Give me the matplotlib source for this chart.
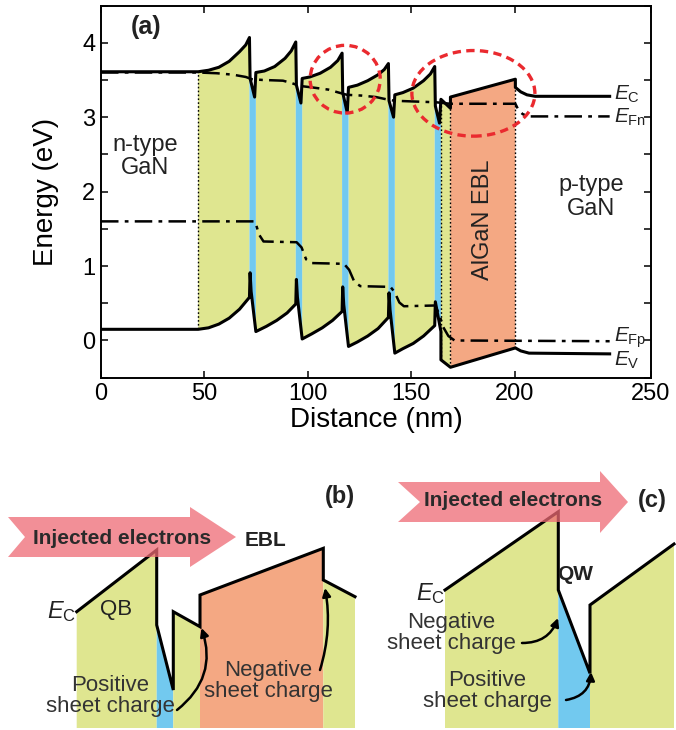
import numpy as np
import matplotlib
matplotlib.use('Agg')
import matplotlib.pyplot as plt
from matplotlib.patches import Polygon, Ellipse
from matplotlib.ticker import MultipleLocator

plt.rcParams['font.family'] = ['Liberation Sans', 'DejaVu Sans']
plt.rcParams['mathtext.fontset'] = 'custom'
plt.rcParams['mathtext.rm'] = 'Liberation Sans'
plt.rcParams['mathtext.it'] = 'Liberation Sans:italic'
plt.rcParams['mathtext.bf'] = 'Liberation Sans:bold'

GREEN = '#dfe690'
BLUE = '#72c9ef'
ORANGE = '#f4a883'
ARROW = '#ee6a74'
TXT = '#222222'

# ---- panel (a) data (nm, eV) ----
ec_x = [0, 47, 52, 57, 62, 67, 70, 71.8,
        72.1, 74.3, 74.9, 79, 84, 89, 92, 94.2,
        94.5, 96.7, 97.3, 101, 106, 111, 114.5, 116.6,
        116.9, 119.1, 119.7, 124, 129, 134, 137, 139.0,
        139.3, 141.5, 142.1, 146, 151, 156, 159.3, 161.4,
        161.7, 163.7, 164.4, 169.0, 169.0,
        200.4, 200.4, 203, 206, 210, 246]
ec_y = [3.61, 3.61, 3.63, 3.67, 3.75, 3.88, 3.97, 4.07,
        3.52, 3.27, 3.60, 3.62, 3.68, 3.79, 3.89, 4.01,
        3.43, 3.19, 3.52, 3.54, 3.59, 3.67, 3.76, 3.86,
        3.33, 3.06, 3.40, 3.43, 3.49, 3.57, 3.64, 3.72,
        3.22, 3.00, 3.30, 3.33, 3.39, 3.49, 3.58, 3.68,
        3.15, 2.92, 3.24, 3.12, 3.27,
        3.51, 3.40, 3.34, 3.30, 3.28, 3.28]

ev_x = [0, 47, 52, 57, 62, 67, 71.8,
        72.1, 72.6, 74.9, 80, 85, 90, 94.2,
        94.5, 95.0, 97.3, 102, 107, 112, 116.6,
        116.9, 117.4, 119.7, 124, 129, 134, 139.0,
        139.3, 139.8, 142.1, 146, 151, 156, 161.4,
        161.7, 164.4, 164.4, 169.0,
        200.4, 203, 207, 246]
ev_y = [0.15, 0.15, 0.17, 0.22, 0.30, 0.42, 0.58,
        0.91, 0.66, 0.12, 0.19, 0.27, 0.37, 0.49,
        0.82, 0.58, 0.02, 0.09, 0.17, 0.27, 0.39,
        0.72, 0.48, -0.08, -0.02, 0.06, 0.16, 0.31,
        0.64, 0.41, -0.17, -0.11, -0.04, 0.06, 0.20,
        0.52, 0.12, -0.26, -0.36,
        -0.10, -0.14, -0.17, -0.18]

efn_x = [0, 47, 56, 64, 70, 73, 78, 88, 92, 96, 102, 110, 115, 119, 126, 133,
         138, 142, 152, 162, 169, 200.4, 202, 204, 207, 246]
efn_y = [3.60, 3.60, 3.59, 3.57, 3.54, 3.51, 3.50, 3.49, 3.46, 3.42, 3.40, 3.37,
         3.33, 3.30, 3.29, 3.27, 3.24, 3.22, 3.21, 3.20, 3.18, 3.18, 3.09, 3.04,
         3.01, 3.01]

efp_x = [0, 74.5, 76.5, 78.6, 94.6, 97.0, 99.2, 102, 117.5, 120, 122.5, 125.4,
         140, 142, 144.3, 146.5, 161.5, 163.5, 165.5, 168, 171, 246]
efp_y = [1.60, 1.60, 1.42, 1.33, 1.32, 1.25, 1.09, 1.04, 1.03, 0.95, 0.79, 0.73,
         0.72, 0.65, 0.51, 0.46, 0.47, 0.36, 0.18, 0.06, 0.00, -0.01]

barriers = [(47, 71.8), (74.9, 94.2), (97.3, 116.6), (119.7, 139.0),
            (142.1, 161.4), (164.4, 169.0)]
wells = [(71.8, 74.9), (94.2, 97.3), (116.6, 119.7), (139.0, 142.1), (161.4, 164.4)]
ebl = (169.0, 200.4)
interfaces = [47, 164.4, 169.0, 200.4]

# ---- panels (b), (c): schematic outlines, in picture pixels ----
b_ec_x = [76.7, 156.7, 156.7, 173.3, 173.3, 200, 200, 323.3, 323.3, 355]
b_ec_y = [611.7, 550, 625, 690, 611.7, 626.7, 595, 548.3, 580, 596.7]
b_parts = [(0, 1, GREEN), (2, 3, BLUE), (4, 5, GREEN), (6, 7, ORANGE), (8, 9, GREEN)]
c_ec_x = [445, 558.3, 558.3, 590, 590, 674]
c_ec_y = [590, 511.7, 590, 673.3, 605, 544]
c_parts = [(0, 1, GREEN), (2, 3, BLUE), (4, 5, GREEN)]
bottom_px = 728

b_arrow_x = [8, 25, 8, 190, 190, 236, 190, 190]
b_arrow_y = [517, 537, 557, 557, 567, 537, 507, 517]
c_arrow_x = [398, 420, 398, 600, 600, 628, 600, 600]
c_arrow_y = [482, 502, 522, 522, 533, 502, 471, 482]


def region(xs, ys, a, b):
    return [(x, y) for x, y in zip(xs, ys) if a - 1e-9 <= x <= b + 1e-9]


fig = plt.figure(figsize=(6.76, 7.30), dpi=100)

# schematic canvas (pixel coordinates)
axs = fig.add_axes([0, 0, 1, 1])
axs.set_xlim(0, 676)
axs.set_ylim(730, 0)
axs.axis('off')

for xs, ys, parts in [(b_ec_x, b_ec_y, b_parts), (c_ec_x, c_ec_y, c_parts)]:
    for i0, i1, col in parts:
        pts = [(xs[i0], bottom_px)] + [(xs[i], ys[i]) for i in range(i0, i1 + 1)] + [(xs[i1], bottom_px)]
        axs.add_patch(Polygon(pts, closed=True, facecolor=col, edgecolor='none', zorder=1))
    axs.plot(xs, ys, color='black', lw=2.2, solid_joinstyle='miter', zorder=3)

for ax_x, ax_y in [(b_arrow_x, b_arrow_y), (c_arrow_x, c_arrow_y)]:
    axs.add_patch(Polygon(list(zip(ax_x, ax_y)), closed=True, facecolor=ARROW,
                          edgecolor='none', alpha=0.75, zorder=4))

axs.text(122, 538, 'Injected electrons', fontsize=15, fontweight='bold', color='#2a2a2a',
         ha='center', va='center', zorder=5)
axs.text(513, 501, 'Injected electrons', fontsize=15, fontweight='bold', color='#2a2a2a',
         ha='center', va='center', zorder=5)
axs.text(340, 497, '(b)', fontsize=17, fontweight='bold', color=TXT, ha='center', va='center')
axs.text(652, 501, '(c)', fontsize=17, fontweight='bold', color=TXT, ha='center', va='center')
axs.text(266, 540, 'EBL', fontsize=15, fontweight='bold', color=TXT, ha='center', va='center')
axs.text(575, 575, 'QW', fontsize=15, fontweight='bold', color=TXT, ha='center', va='center', zorder=5)
axs.text(116, 610, 'QB', fontsize=16, color=TXT, ha='center', va='center')
axs.text(76, 618, r'$\mathit{E}_{\mathrm{C}}$', fontsize=17, color=TXT, ha='right', va='baseline')
axs.text(445, 600, r'$\mathit{E}_{\mathrm{C}}$', fontsize=17, color=TXT, ha='right', va='baseline')
axs.text(110, 696, 'Positive\nsheet charge', fontsize=16, color='#333333', ha='center',
         va='center', linespacing=1.05, zorder=5)
axs.text(268, 681, 'Negative\nsheet charge', fontsize=16, color='#333333', ha='center',
         va='center', linespacing=1.05, zorder=5)
axs.text(451, 633, 'Negative\nsheet charge', fontsize=16, color='#333333', ha='center',
         va='center', linespacing=1.05, zorder=5)
axs.text(487, 691, 'Positive\nsheet charge', fontsize=16, color='#333333', ha='center',
         va='center', linespacing=1.05, zorder=5)

curved = [((177, 710), (201.5, 628), 0.35), ((320, 670), (325, 588), 0.12),
          ((522, 643), (558, 618), 0.35), ((566, 700), (591, 672), 0.4)]
for start, end, rad in curved:
    axs.annotate('', xy=end, xytext=start,
                 arrowprops=dict(arrowstyle='-|>', color='black', lw=1.8, mutation_scale=12,
                                 shrinkA=0, shrinkB=0, connectionstyle=f'arc3,rad={rad}'),
                 zorder=6)

# ---- panel (a) ----
ax = fig.add_axes([101 / 676, 1 - 377.7 / 730, 550 / 676, 372.2 / 730])
for a, b in barriers:
    pts = region(ec_x, ec_y, a, b) + region(ev_x, ev_y, a, b)[::-1]
    ax.add_patch(Polygon(pts, closed=True, facecolor=GREEN, edgecolor='none', zorder=1))
for a, b in wells:
    pts = region(ec_x, ec_y, a, b) + region(ev_x, ev_y, a, b)[::-1]
    ax.add_patch(Polygon(pts, closed=True, facecolor=BLUE, edgecolor='none', zorder=1))
pts = region(ec_x, ec_y, *ebl) + region(ev_x, ev_y, *ebl)[::-1]
ax.add_patch(Polygon(pts, closed=True, facecolor=ORANGE, edgecolor='none', zorder=1))

for xi in interfaces:
    top = max(y for x, y in zip(ec_x, ec_y) if abs(x - xi) < 1e-9)
    bot = min(y for x, y in zip(ev_x, ev_y) if abs(x - xi) < 1e-9)
    ax.plot([xi, xi], [bot, top], color='black', lw=1.0, ls=(0, (1.2, 1.6)), zorder=2)

dashdot = (0, (7, 2.5, 1.5, 2.5))
ax.plot(ec_x, ec_y, color='black', lw=2.2, zorder=4)
ax.plot(ev_x, ev_y, color='black', lw=2.2, zorder=4)
ax.plot(efn_x, efn_y, color='black', lw=1.8, ls=dashdot, zorder=4)
ax.plot(efp_x, efp_y, color='black', lw=1.8, ls=dashdot, zorder=4)

for cx, cy, w, h in [(118.1, 3.51, 33.9, 0.91), (180.1, 3.32, 59.5, 1.15)]:
    ax.add_patch(Ellipse((cx, cy), w, h, fill=False, edgecolor='#ea2a2f', lw=2.4,
                         ls=(0, (2.5, 1.6)), zorder=5))

ax.text(21.5, 2.47, 'n-type\nGaN', fontsize=17, color=TXT, ha='center', va='center', linespacing=1.1)
ax.text(237, 1.93, 'p-type\nGaN', fontsize=17, color=TXT, ha='center', va='center', linespacing=1.1)
ax.text(184.6, 1.62, 'AlGaN EBL', fontsize=17, color=TXT, ha='center', va='center', rotation=90)
ax.text(21.7, 4.21, '(a)', fontsize=18, fontweight='bold', color=TXT, ha='center', va='center')

for lab, yb in [('C', 3.24), ('Fn', 2.92), ('Fp', -0.02), ('V', -0.34)]:
    ax.text(248.3, yb, r'$\mathit{E}_{\mathrm{' + lab + '}}$', fontsize=15, color=TXT,
            ha='left', va='baseline')

ax.set_xlim(0, 266)
ax.set_ylim(-0.5, 4.5)
ax.set_xticks([0, 50, 100, 150, 200, 266])
ax.set_xticklabels(['0', '50', '100', '150', '200', '250'])
ax.set_yticks([0, 1, 2, 3, 4])
ax.yaxis.set_minor_locator(MultipleLocator(0.5))
ax.tick_params(which='both', direction='in', top=True, right=True, length=5, width=1.1,
               labelsize=17, pad=4)
for s in ax.spines.values():
    s.set_linewidth(1.4)
ax.set_xlabel('Distance (nm)', fontsize=20, labelpad=1)
ax.set_ylabel('Energy (eV)', fontsize=20, labelpad=17)

fig.savefig('out.png', dpi=100)
